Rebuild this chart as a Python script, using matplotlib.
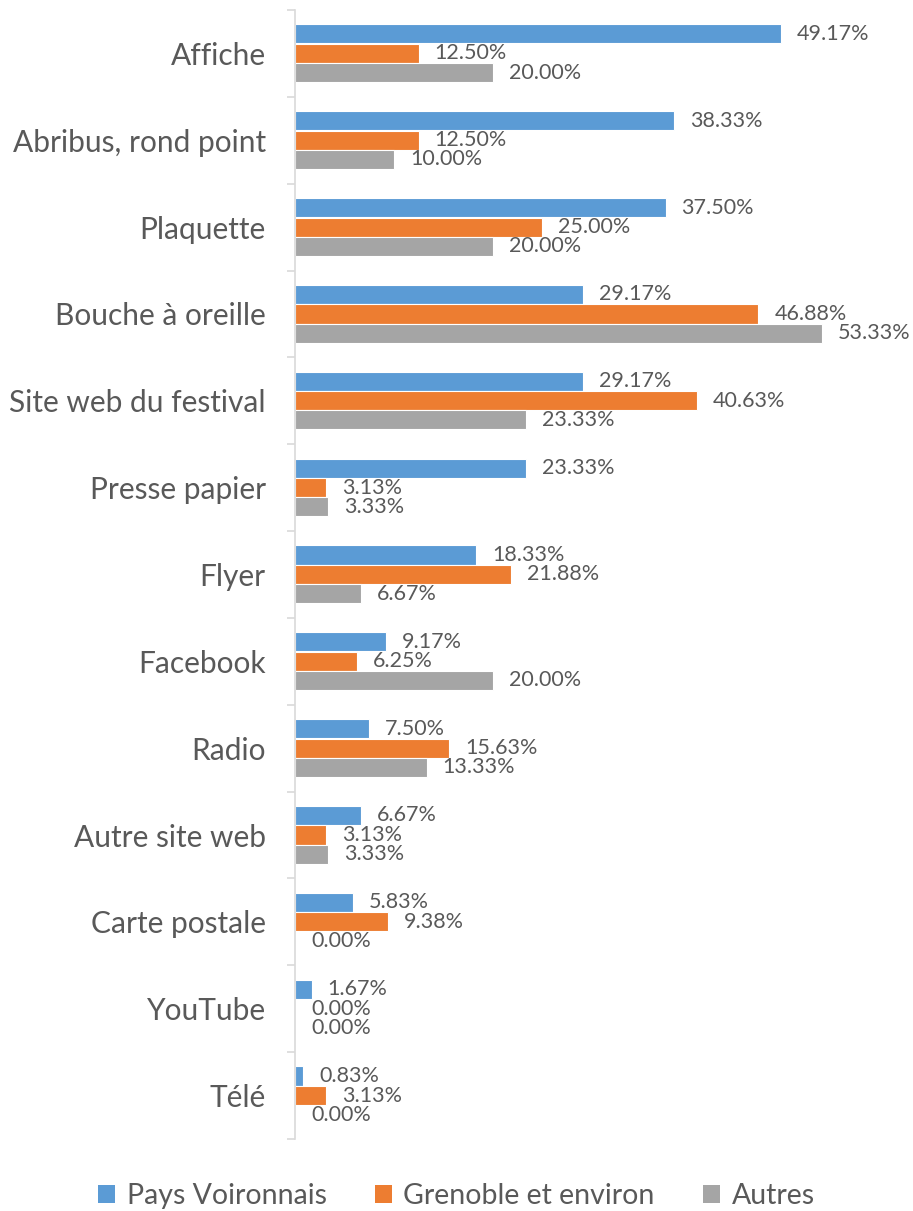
import matplotlib.pyplot as plt
from matplotlib.patches import Patch
import numpy as np

plt.rcParams['font.family'] = ['Lato', 'DejaVu Sans']

categories = ['Affiche', 'Abribus, rond point', 'Plaquette', 'Bouche à oreille',
              'Site web du festival', 'Presse papier', 'Flyer', 'Facebook', 'Radio',
              'Autre site web', 'Carte postale', 'YouTube', 'Télé']
pays_voironnais = [49.17, 38.33, 37.50, 29.17, 29.17, 23.33, 18.33, 9.17, 7.50, 6.67, 5.83, 1.67, 0.83]
grenoble = [12.50, 12.50, 25.00, 46.88, 40.63, 3.13, 21.88, 6.25, 15.63, 3.13, 9.38, 0.00, 3.13]
autres = [20.00, 10.00, 20.00, 53.33, 23.33, 3.33, 6.67, 20.00, 13.33, 3.33, 0.00, 0.00, 0.00]
series_names = ['Pays Voironnais', 'Grenoble et environ', 'Autres']
colors = ['#5B9BD5', '#ED7D31', '#A5A5A5']
text_color = '#595959'

W, H = 913, 1211
fig = plt.figure(figsize=(W / 100, H / 100), dpi=100)
ax = fig.add_axes([295 / W, 1 - 1139 / H, 593 / W, (1139 - 10) / H])

y = np.arange(len(categories))
bh = 0.22
offsets = [-0.225, 0.0, 0.22]
for vals, off, col in zip([pays_voironnais, grenoble, autres], offsets, colors):
    ax.barh(y + off, vals, height=bh, color=col, edgecolor='white', linewidth=0.8)
    for yi, v in zip(y, vals):
        ax.annotate(f'{v:.2f}%', (v, yi + off), xytext=(11.5, 0), textcoords='offset points',
                    ha='left', va='center', fontsize=15.5, color=text_color)

ax.set_xlim(0, 60)
ax.set_ylim(len(categories) - 0.5, -0.5)
ax.set_yticks(y)
ax.set_yticklabels(categories, fontsize=21.5, color=text_color)
ax.set_yticks(np.arange(-0.5, len(categories)), minor=True)
ax.tick_params(axis='y', which='major', length=0, pad=21)
ax.tick_params(axis='y', which='minor', length=6, width=1.2, color='#D9D9D9')
ax.set_xticks([])
for s in ['top', 'right', 'bottom']:
    ax.spines[s].set_visible(False)
ax.spines['left'].set_color('#D9D9D9')
ax.spines['left'].set_linewidth(1.2)

handles = [Patch(facecolor=c, label=n) for c, n in zip(colors, series_names)]
fig.legend(handles=handles, loc='center', bbox_to_anchor=(0.5, 1 - 1196 / H), ncol=3,
           frameon=False, fontsize=20.5, labelcolor=text_color, handlelength=0.6,
           handleheight=0.6, handletextpad=0.4, columnspacing=1.7)

fig.savefig('out.png', dpi=100)
